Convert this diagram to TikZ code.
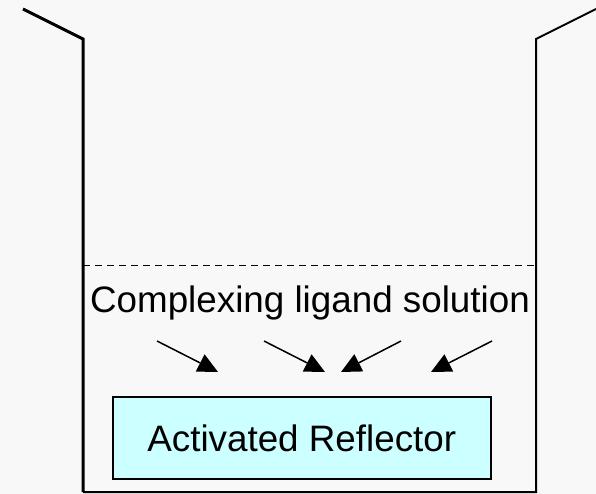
\documentclass[tikz,border=0pt]{standalone}
\usepackage{fontspec}
\setmainfont{Liberation Sans}
\usepackage[rgb]{xcolor}
\usetikzlibrary{positioning,arrows.meta}

\definecolor{paper}{RGB}{248,248,248}
\definecolor{reflcyan}{RGB}{204,255,255}

\begin{document}
\begin{tikzpicture}[x=1pt,y=-1pt,
        wall/.style={line width=2pt, line join=miter},
        flow/.style={line width=1.5pt, -{Triangle[length=20pt,width=19pt]}},
        big/.style={font=\fontsize{36.8}{44}\selectfont, inner sep=0pt}]
    \fill[paper] (0,0) rectangle (596,494);
    \useasboundingbox (0,0) rectangle (596,494);

    % beaker
    \draw[wall, line width=3pt] (23,9) -- (83,39) -- (83,492);
    \draw[wall] (83,492) -- (536,492) -- (536,39) -- (596,9);

    % liquid surface
    \draw[line width=1pt, dash pattern=on 7pt off 5pt]
        (83,265) -- (536,265);

    \node[big, anchor=base] (ligand) at (310,312)
        {Complexing ligand solution};

    \node[draw, fill=reflcyan, line width=2pt, big,
        minimum width=378pt, minimum height=82pt] (refl)
        at (301.75,438) {Activated Reflector};

    % ligand moving onto the reflector
    \foreach \s/\t [count=\i] in {157/218, 264/325, 401/341, 492/431}{
        \coordinate (from\i) at (\s,341);
        \coordinate (to\i) at (\t,372);
        \draw[flow] (from\i) -- (to\i);
    }
\end{tikzpicture}
\end{document}
